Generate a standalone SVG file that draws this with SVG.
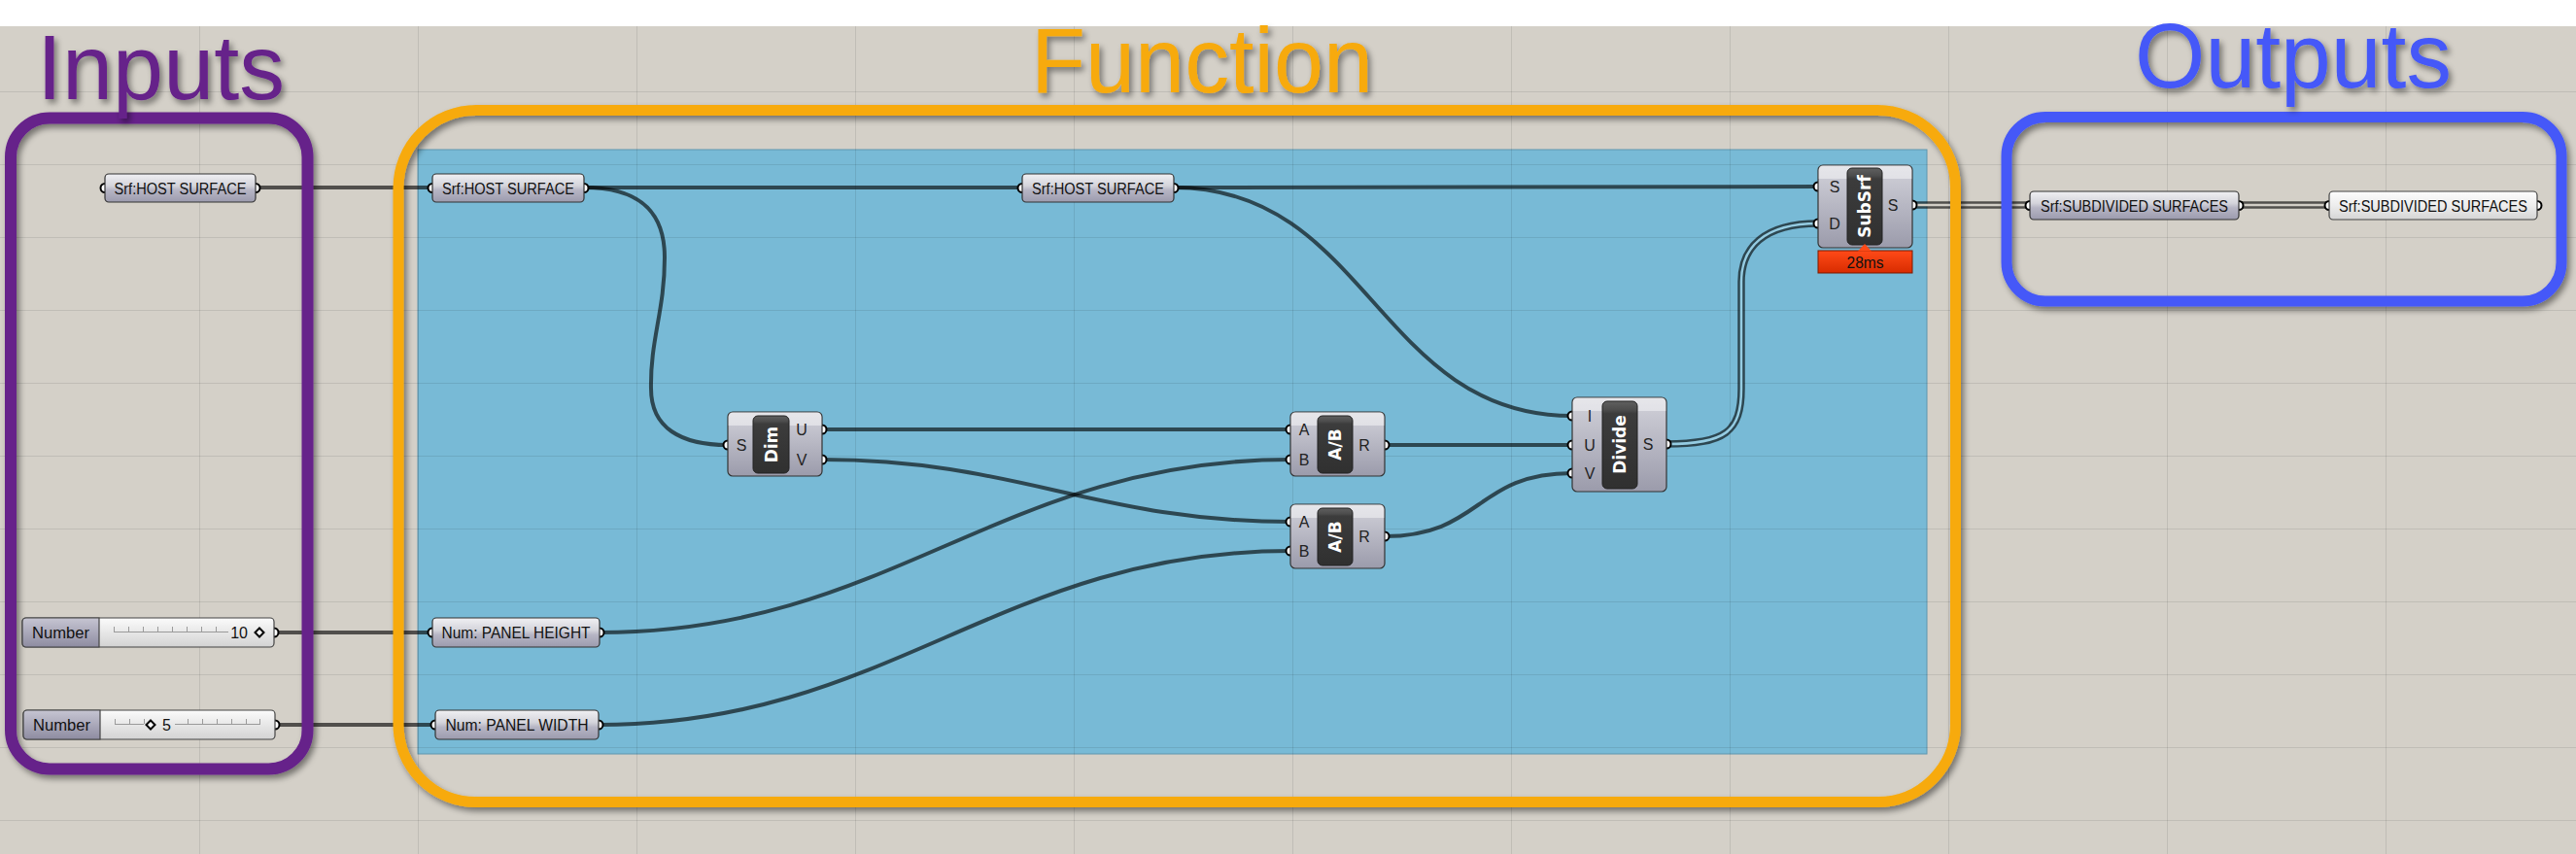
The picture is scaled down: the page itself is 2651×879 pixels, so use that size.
<svg xmlns="http://www.w3.org/2000/svg" width="2651" height="879" viewBox="0 0 2651 879">
<defs>
  <linearGradient id="gParam" x1="0" y1="0" x2="0" y2="1">
    <stop offset="0" stop-color="#F0F0F3"/>
    <stop offset="0.42" stop-color="#D4D4DB"/>
    <stop offset="0.58" stop-color="#B6B5C4"/>
    <stop offset="1" stop-color="#9C9BAE"/>
  </linearGradient>
  <linearGradient id="gWhite" x1="0" y1="0" x2="0" y2="1">
    <stop offset="0" stop-color="#FDFDFD"/>
    <stop offset="0.5" stop-color="#EDEDED"/>
    <stop offset="1" stop-color="#D5D5D5"/>
  </linearGradient>
  <linearGradient id="gComp" x1="0" y1="0" x2="0" y2="1">
    <stop offset="0" stop-color="#D2D2DA"/>
    <stop offset="1" stop-color="#9B9BAB"/>
  </linearGradient>
  <linearGradient id="gDark" x1="0" y1="0" x2="0" y2="1">
    <stop offset="0" stop-color="#606060"/>
    <stop offset="0.1" stop-color="#4C4C4C"/>
    <stop offset="0.14" stop-color="#3C3C3C"/>
    <stop offset="1" stop-color="#303030"/>
  </linearGradient>
  <linearGradient id="gRed" x1="0" y1="0" x2="0" y2="1">
    <stop offset="0" stop-color="#FF4A18"/>
    <stop offset="1" stop-color="#D82C00"/>
  </linearGradient>
  <linearGradient id="gSlL" x1="0" y1="0" x2="0" y2="1">
    <stop offset="0" stop-color="#C6C5D2"/>
    <stop offset="1" stop-color="#8E8CA1"/>
  </linearGradient>
  <linearGradient id="gSlV" x1="0" y1="0" x2="0" y2="1">
    <stop offset="0" stop-color="#FBFBFB"/>
    <stop offset="1" stop-color="#D3D3D3"/>
  </linearGradient>
  <filter id="shadow" x="-10%" y="-10%" width="125%" height="135%">
    <feDropShadow dx="3" dy="4" stdDeviation="3" flood-color="#000" flood-opacity="0.45"/>
  </filter>
</defs>
<style>
  .wire{fill:none;stroke:#000;stroke-opacity:0.62;stroke-width:4}
  .dw{fill:none;stroke:#000;stroke-opacity:0.62;stroke-width:7.5}
  .dwi{fill:none;stroke-width:2.5}
  .grip{fill:#fff;stroke:#000;stroke-width:2}
  .param{fill:url(#gParam);stroke:#333;stroke-width:1.2}
  .pwhite{fill:url(#gWhite);stroke:#444;stroke-width:1.2}
  .comp{fill:url(#gComp);stroke:#333;stroke-width:1.2}
  .hl{fill:#fff;fill-opacity:0.45}
  .dark{fill:url(#gDark);stroke:#222;stroke-width:1}
  .ptxt{font-family:"Liberation Sans",Arial,sans-serif;font-size:16px;fill:#111;text-anchor:middle}
  .port{font-family:"Liberation Sans",Arial,sans-serif;font-size:16px;fill:#222;text-anchor:middle}
  .title{font-family:"DejaVu Sans",Verdana,sans-serif;font-weight:bold;font-size:17px;fill:#fff;text-anchor:middle}
  .big{font-family:"Liberation Sans",Arial,sans-serif;font-size:95px}
  .tick{fill:none;stroke:#9A9A9A;stroke-width:1}
  .diam{fill:#fff;stroke:#000;stroke-width:2}
</style>

<!-- background -->
<rect x="0" y="0" width="2651" height="879" fill="#D4D0C8"/>
<rect x="0" y="0" width="2651" height="27" fill="#FFFFFF"/>
<rect x="430" y="154" width="1553" height="622" fill="#78BAD6" stroke="#5E96AE" stroke-width="1"/>
<path fill="none" stroke="#000" stroke-opacity="0.09" stroke-width="1" d="M205.5,27V879M430.5,27V879M655.5,27V879M880.5,27V879M1105.5,27V879M1330.5,27V879M1555.5,27V879M1780.5,27V879M2005.5,27V879M2230.5,27V879M2455.5,27V879M0,94.5H2651M0,169.5H2651M0,244.5H2651M0,319.5H2651M0,394.5H2651M0,469.5H2651M0,544.5H2651M0,619.5H2651M0,694.5H2651M0,769.5H2651M0,844.5H2651"/>

<!-- connectors -->
<g id="connectors">
  <path class="wire" d="M263,193 L445,193"/>
  <path class="wire" d="M601,193 L1052,193"/>
  <path class="wire" d="M601,193 C655,193 684,215 684,265 C684,320 669,350 670,400 C670,440 700,458 749,458"/>
  <path class="wire" d="M1208,193 L1871,192"/>
  <path class="wire" d="M1208,193 C1408,193 1418,428 1618,428"/>
  <path class="wire" d="M846,442 L1328,442"/>
  <path class="wire" d="M846,473 C1046,473 1128,537 1328,537"/>
  <path class="wire" d="M617,651 C917,651 1028,473 1328,473"/>
  <path class="wire" d="M616,746 C916,746 1028,567 1328,567"/>
  <path class="wire" d="M1425,458 L1618,458"/>
  <path class="wire" d="M1425,552 C1525,552 1518,487 1618,487"/>
  <path class="wire" d="M282,651 L445,651"/>
  <path class="wire" d="M283,746 L448,746"/>
  <path class="dw" d="M1715,457 C1775,457 1792,445 1792,400 L1792,290 C1792,255 1815,230 1871,230"/>
  <path class="dwi" stroke="#95CCE2" d="M1715,457 C1775,457 1792,445 1792,400 L1792,290 C1792,255 1815,230 1871,230"/>
  <path class="dw" d="M1968,211 L2089,211"/>
  <path class="dwi" stroke="#D2CEC6" d="M1968,211 L2089,211"/>
  <path class="dw" d="M2304,211 L2397,211"/>
  <path class="dwi" stroke="#D2CEC6" d="M2304,211 L2397,211"/>
</g>

<!-- group outlines -->
<g id="group-inputs">
  <rect x="11" y="121.5" width="305.5" height="670" rx="40" fill="none" stroke="#66228A" stroke-width="12" filter="url(#shadow)"/>
  <text class="big" x="38" y="102" fill="#66228A" textLength="255" lengthAdjust="spacingAndGlyphs" filter="url(#shadow)">Inputs</text>
</g>
<g id="group-function">
  <rect x="410" y="113.5" width="1602.5" height="712" rx="80" fill="none" stroke="#F7AA0A" stroke-width="11" filter="url(#shadow)"/>
  <text class="big" x="1061" y="95" fill="#F7AA0A" textLength="352" lengthAdjust="spacingAndGlyphs" filter="url(#shadow)">Function</text>
</g>
<g id="group-outputs">
  <rect x="2065" y="120.5" width="571" height="189.5" rx="40" fill="none" stroke="#4458F8" stroke-width="11" filter="url(#shadow)"/>
  <text class="big" x="2197" y="90" fill="#4458F8" textLength="326" lengthAdjust="spacingAndGlyphs" filter="url(#shadow)">Outputs</text>
</g>

<!-- nodes -->
<g id="in-host-surface">
  <circle class="grip" cx="108" cy="193.5" r="4.5"/>
  <circle class="grip" cx="263" cy="193.5" r="4.5"/>
  <rect class="param" x="108" y="179" width="155" height="29" rx="4"/>
  <text class="ptxt" x="185.5" y="199.5" textLength="136" lengthAdjust="spacingAndGlyphs">Srf:HOST SURFACE</text>
</g>

<g id="slider-height">
  <circle class="grip" cx="282" cy="651" r="4.5"/>
  <rect x="23" y="636" width="259" height="30" rx="4" fill="url(#gSlV)" stroke="#444" stroke-width="1.2"/>
  <path d="M102,636 H27 Q23,636 23,640 V662 Q23,666 27,666 H102 Z" fill="url(#gSlL)" stroke="#444" stroke-width="1.2"/>
  <path class="tick" d="M117,650.5H235M117.5,645V650M132.5,645V650M147.5,645V650M162.5,645V650M177.5,645V650M192.5,645V650M207.5,645V650M222.5,645V650"/>
  <text class="ptxt" x="62.5" y="657" font-size="17" textLength="59" lengthAdjust="spacingAndGlyphs">Number</text>
  <text class="ptxt" x="255" y="657" font-size="17" style="text-anchor:end">10</text>
  <path class="diam" d="M267,646.5 L271.5,651 L267,655.5 L262.5,651 Z"/>
</g>

<g id="slider-width">
  <circle class="grip" cx="283" cy="746" r="4.5"/>
  <rect x="24" y="731" width="259" height="30" rx="4" fill="url(#gSlV)" stroke="#444" stroke-width="1.2"/>
  <path d="M103,731 H28 Q24,731 24,735 V757 Q24,761 28,761 H103 Z" fill="url(#gSlL)" stroke="#444" stroke-width="1.2"/>
  <path class="tick" d="M118,745.5H148M180,745.5H268M118.5,740V745M133.5,740V745M148.5,740V745M193.5,740V745M208.5,740V745M223.5,740V745M238.5,740V745M253.5,740V745M267.5,740V745"/>
  <text class="ptxt" x="63.5" y="752" font-size="17" textLength="59" lengthAdjust="spacingAndGlyphs">Number</text>
  <text class="ptxt" x="167" y="752" font-size="17" style="text-anchor:start">5</text>
  <path class="diam" d="M155,741.5 L159.5,746 L155,750.5 L150.5,746 Z"/>
</g>

<g id="fn-host-surface-1">
  <circle class="grip" cx="445" cy="193.5" r="4.5"/>
  <circle class="grip" cx="601" cy="193.5" r="4.5"/>
  <rect class="param" x="445" y="179" width="156" height="29" rx="4"/>
  <text class="ptxt" x="523" y="199.5" textLength="136" lengthAdjust="spacingAndGlyphs">Srf:HOST SURFACE</text>
</g>

<g id="fn-host-surface-2">
  <circle class="grip" cx="1052" cy="193.5" r="4.5"/>
  <circle class="grip" cx="1208" cy="193.5" r="4.5"/>
  <rect class="param" x="1052" y="179" width="156" height="29" rx="4"/>
  <text class="ptxt" x="1130" y="199.5" textLength="136" lengthAdjust="spacingAndGlyphs">Srf:HOST SURFACE</text>
</g>

<g id="panel-height">
  <circle class="grip" cx="445" cy="651" r="4.5"/>
  <circle class="grip" cx="617" cy="651" r="4.5"/>
  <rect class="param" x="445" y="636" width="172" height="30" rx="4"/>
  <text class="ptxt" x="531" y="657" textLength="153" lengthAdjust="spacingAndGlyphs">Num: PANEL HEIGHT</text>
</g>

<g id="panel-width">
  <circle class="grip" cx="448" cy="746" r="4.5"/>
  <circle class="grip" cx="616" cy="746" r="4.5"/>
  <rect class="param" x="448" y="731" width="168" height="30" rx="4"/>
  <text class="ptxt" x="532" y="752" textLength="147" lengthAdjust="spacingAndGlyphs">Num: PANEL WIDTH</text>
</g>

<g id="dim">
  <circle class="grip" cx="749" cy="458" r="4.5"/>
  <circle class="grip" cx="846" cy="442" r="4.5"/>
  <circle class="grip" cx="846" cy="473" r="4.5"/>
  <rect class="comp" x="749" y="424" width="97" height="66" rx="5"/>
  <path class="hl" d="M749.6,438 V429 Q749.6,424.6 754,424.6 H841 Q845.4,424.6 845.4,429 V438 Z"/>
  <rect class="dark" x="775" y="428" width="37" height="59" rx="5"/>
  <text class="title" transform="translate(793.5,457.5) rotate(-90)" y="6">Dim</text>
  <text class="port" x="763" y="463.5">S</text>
  <text class="port" x="825" y="447.5">U</text>
  <text class="port" x="825" y="478.5">V</text>
</g>

<g id="ab-1">
  <circle class="grip" cx="1328" cy="442" r="4.5"/>
  <circle class="grip" cx="1328" cy="473" r="4.5"/>
  <circle class="grip" cx="1425" cy="458" r="4.5"/>
  <rect class="comp" x="1328" y="424" width="97" height="66" rx="5"/>
  <path class="hl" d="M1328.6,438 V429 Q1328.6,424.6 1333,424.6 H1420 Q1424.4,424.6 1424.4,429 V438 Z"/>
  <rect class="dark" x="1356" y="428" width="36" height="59" rx="5"/>
  <text class="title" transform="translate(1374,457.5) rotate(-90)" y="6">A/B</text>
  <text class="port" x="1342" y="447.5">A</text>
  <text class="port" x="1342" y="478.5">B</text>
  <text class="port" x="1404" y="463.5">R</text>
</g>

<g id="ab-2">
  <circle class="grip" cx="1328" cy="537" r="4.5"/>
  <circle class="grip" cx="1328" cy="567" r="4.5"/>
  <circle class="grip" cx="1425" cy="552" r="4.5"/>
  <rect class="comp" x="1328" y="519" width="97" height="66" rx="5"/>
  <path class="hl" d="M1328.6,533 V524 Q1328.6,519.6 1333,519.6 H1420 Q1424.4,519.6 1424.4,524 V533 Z"/>
  <rect class="dark" x="1356" y="523" width="36" height="59" rx="5"/>
  <text class="title" transform="translate(1374,552.5) rotate(-90)" y="6">A/B</text>
  <text class="port" x="1342" y="542.5">A</text>
  <text class="port" x="1342" y="572.5">B</text>
  <text class="port" x="1404" y="557.5">R</text>
</g>

<g id="divide">
  <circle class="grip" cx="1618" cy="428" r="4.5"/>
  <circle class="grip" cx="1618" cy="458" r="4.5"/>
  <circle class="grip" cx="1618" cy="487" r="4.5"/>
  <circle class="grip" cx="1715" cy="457" r="4.5"/>
  <rect class="comp" x="1618" y="409" width="97" height="97" rx="5"/>
  <path class="hl" d="M1618.6,423 V414 Q1618.6,409.6 1623,409.6 H1710 Q1714.4,409.6 1714.4,414 V423 Z"/>
  <rect class="dark" x="1649" y="413" width="36" height="90" rx="5"/>
  <text class="title" transform="translate(1667,457.5) rotate(-90)" y="6">Divide</text>
  <text class="port" x="1636" y="433.5">I</text>
  <text class="port" x="1636" y="463.5">U</text>
  <text class="port" x="1636" y="492.5">V</text>
  <text class="port" x="1696" y="462.5">S</text>
</g>

<g id="subsrf">
  <circle class="grip" cx="1871" cy="192" r="4.5"/>
  <circle class="grip" cx="1871" cy="230" r="4.5"/>
  <circle class="grip" cx="1968" cy="211" r="4.5"/>
  <rect class="comp" x="1871" y="170" width="97" height="85" rx="5"/>
  <path class="hl" d="M1871.6,184 V175 Q1871.6,170.6 1876,170.6 H1963 Q1967.4,170.6 1967.4,175 V184 Z"/>
  <rect class="dark" x="1901" y="173" width="36" height="79" rx="5"/>
  <text class="title" transform="translate(1919,212.5) rotate(-90)" y="6">SubSrf</text>
  <text class="port" x="1888" y="197.5">S</text>
  <text class="port" x="1888" y="235.5">D</text>
  <text class="port" x="1948" y="216.5">S</text>
  <rect x="1871" y="258" width="97" height="23" fill="url(#gRed)" stroke="#7A1A00" stroke-width="1"/>
  <path d="M1912,258.5 L1926,258.5 L1919,251 Z" fill="#FF4A18"/>
  <text class="ptxt" x="1919.5" y="275.5" font-size="17" textLength="38" lengthAdjust="spacingAndGlyphs">28ms</text>
</g>

<g id="out-subdivided-1">
  <circle class="grip" cx="2089" cy="211.5" r="4.5"/>
  <circle class="grip" cx="2304" cy="211.5" r="4.5"/>
  <rect class="param" x="2089" y="197" width="215" height="29" rx="4"/>
  <text class="ptxt" x="2196.5" y="217.5" textLength="193" lengthAdjust="spacingAndGlyphs">Srf:SUBDIVIDED SURFACES</text>
</g>

<g id="out-subdivided-2">
  <circle class="grip" cx="2397" cy="211.5" r="4.5"/>
  <circle class="grip" cx="2611" cy="211.5" r="4.5"/>
  <rect class="pwhite" x="2397" y="197" width="214" height="29" rx="4"/>
  <text class="ptxt" x="2504" y="217.5" textLength="194" lengthAdjust="spacingAndGlyphs">Srf:SUBDIVIDED SURFACES</text>
</g>
</svg>
